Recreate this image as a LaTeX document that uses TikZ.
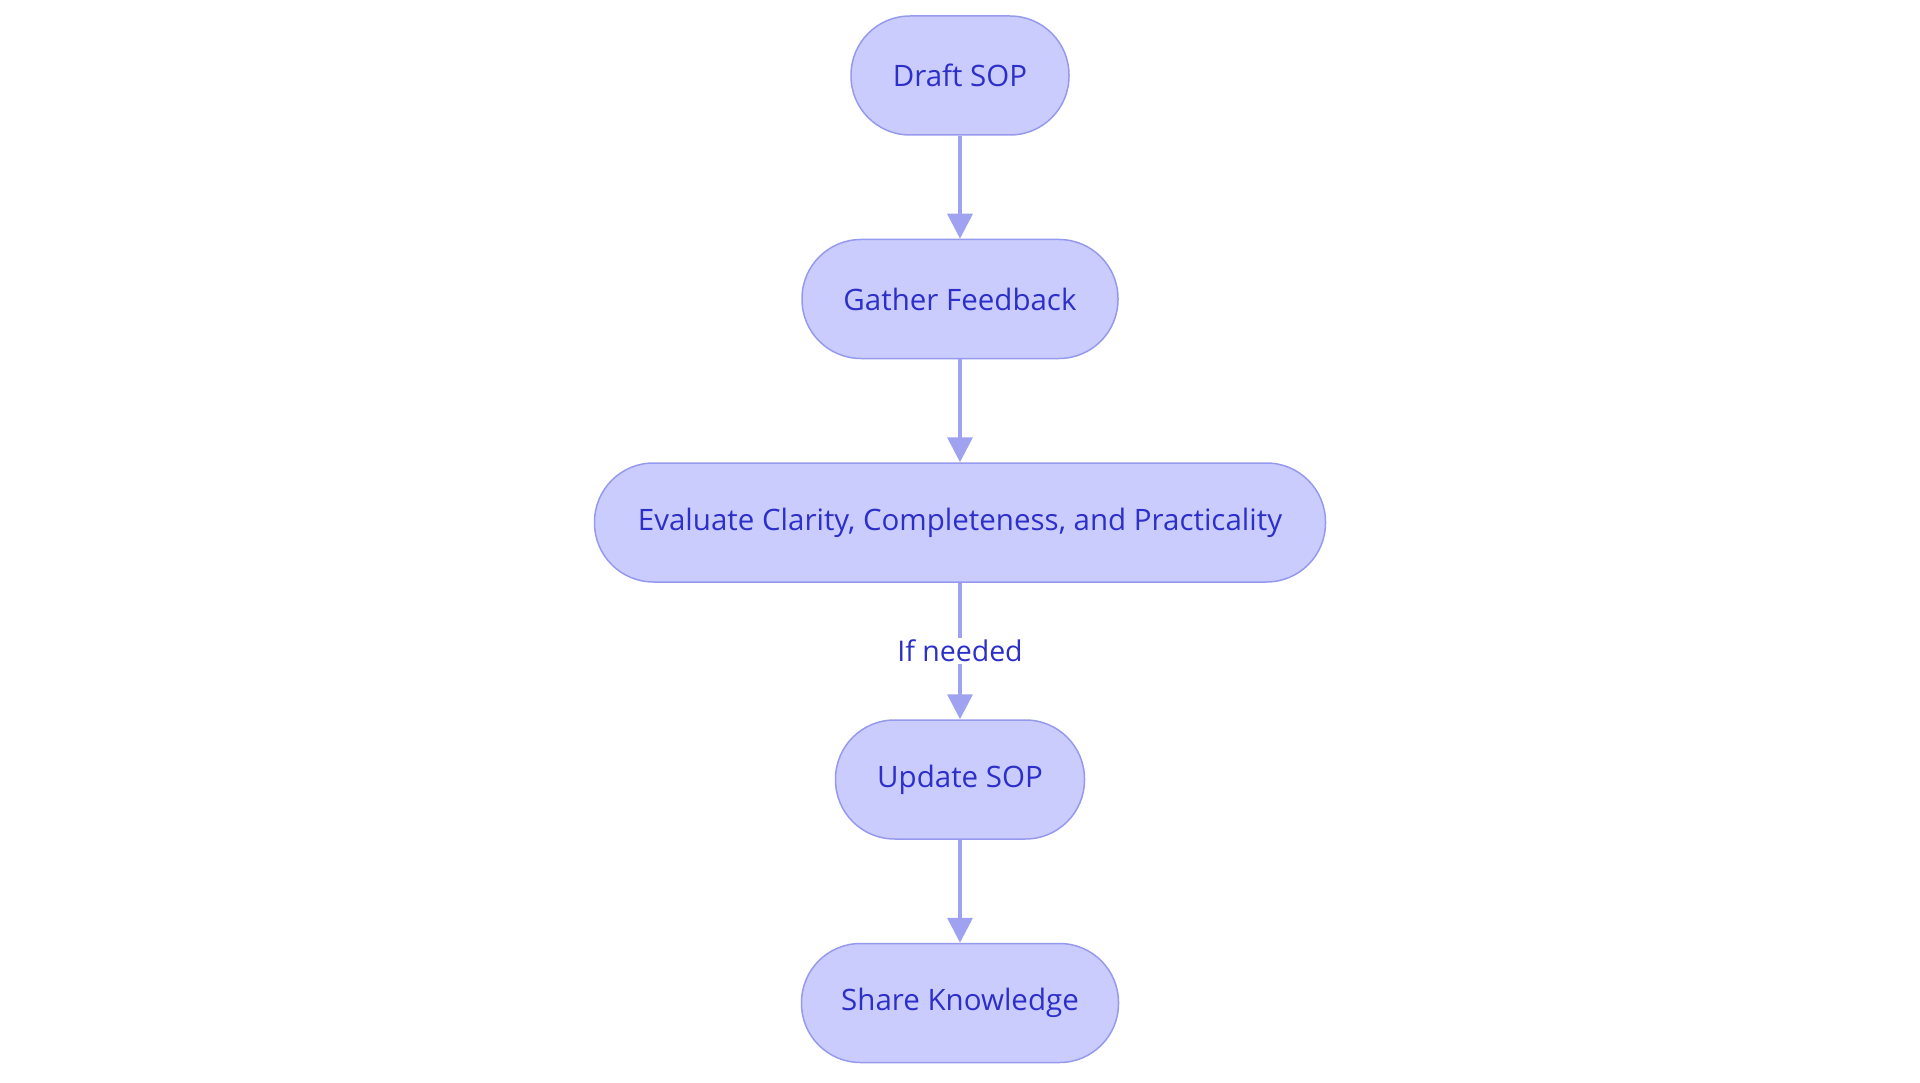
\documentclass[tikz,border=0pt]{standalone}
\usepackage{fontspec}
\setmainfont{Open Sans}
\usetikzlibrary{arrows.meta}
\definecolor{nodefill}{RGB}{202,204,253}
\definecolor{nodeline}{RGB}{150,154,238}
\definecolor{txt}{RGB}{44,48,200}
\definecolor{edge}{RGB}{158,162,240}
\tikzset{
  stepbox/.style={draw=nodeline, fill=nodefill, line width=1.5pt, rounded corners=59pt,
    minimum height=119pt, inner sep=0pt, text=txt, font=\fontsize{29.5}{34}\selectfont},
  flow/.style={draw=edge, line width=3.5pt, -{Triangle[length=25pt,width=25pt]}},
  lbl/.style={fill=white, text=txt, inner sep=2pt, font=\fontsize{28.5}{33}\selectfont}
}
\begin{document}
\begin{tikzpicture}[x=1pt,y=-1pt]
\useasboundingbox (0,0) rectangle (1920,1083);
\node[stepbox, minimum width=218pt] (a) at (960,75.5) {Draft SOP};
\node[stepbox, minimum width=316pt] (b) at (960,299) {Gather Feedback};
\node[stepbox, minimum width=731pt] (c) at (960,522.5) {Evaluate Clarity, Completeness, and Practicality};
\node[stepbox, minimum width=249pt] (d) at (960,779.5) {Update SOP};
\node[stepbox, minimum width=317pt] (e) at (960,1003) {Share Knowledge};
\draw[flow] (a) -- (b);
\draw[flow] (b) -- (c);
\draw[flow] (c) -- node[lbl] (l) {If needed} (d);
\draw[flow] (d) -- (e);
\end{tikzpicture}
\end{document}
